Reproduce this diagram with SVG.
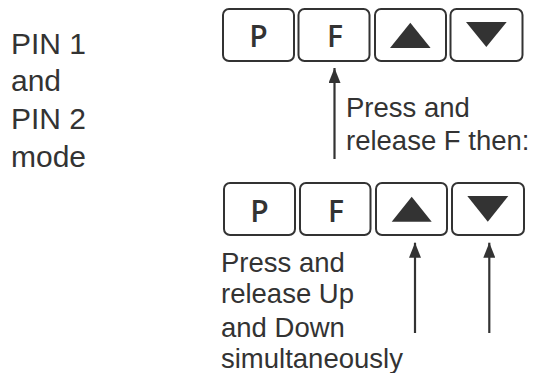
<svg xmlns="http://www.w3.org/2000/svg" width="535" height="373" viewBox="0 0 535 373">
<defs>
<style>
.btn{fill:#fff;stroke:#333;stroke-width:2}
.key{font-family:"Open Sans","Liberation Sans",sans-serif;font-weight:600;font-size:30px;fill:#333;text-anchor:middle}
.tri{fill:#333}
.lbl{font-family:"Liberation Sans",Arial,sans-serif;font-size:27.5px;fill:#333}
.big{font-family:"Liberation Sans",Arial,sans-serif;font-size:30px;fill:#333}
.con{stroke:#333;stroke-width:2.2;fill:none;marker-end:url(#ah)}
</style>
<marker id="ah" markerUnits="userSpaceOnUse" markerWidth="15" markerHeight="12" refX="15" refY="6" orient="auto">
<path d="M0,0 L15,6 L0,12 z" fill="#333"/>
</marker>
</defs>
<rect width="535" height="373" fill="#fff"/>
<g id="mode-label">
<text class="big" x="11" y="54.3">PIN 1</text>
<text class="big" x="11" y="91">and</text>
<text class="big" x="11" y="129.3">PIN 2</text>
<text class="big" x="11" y="166.7">mode</text>
</g>
<g id="top-P"><rect class="btn" x="223" y="9" width="71" height="52" rx="6"/><text class="key" x="258.5" y="46.7">P</text></g>
<g id="top-F"><rect class="btn" x="298.5" y="9" width="71" height="52" rx="6"/><text class="key" x="335" y="46.7">F</text></g>
<g id="top-up"><rect class="btn" x="375" y="9" width="71" height="52" rx="6"/><polygon class="tri" points="390,48 430.6,48 410.3,22.7"/></g>
<g id="top-down"><rect class="btn" x="450.5" y="9" width="72" height="52" rx="6"/><polygon class="tri" points="466,22 506.7,22 486.3,47"/></g>
<g id="bot-P"><rect class="btn" x="224" y="183" width="71" height="52" rx="6"/><text class="key" x="259.5" y="221.7">P</text></g>
<g id="bot-F"><rect class="btn" x="300" y="183" width="70.5" height="52" rx="6"/><text class="key" x="336" y="221.7">F</text></g>
<g id="bot-up"><rect class="btn" x="376" y="183" width="71" height="52" rx="6"/><polygon class="tri" points="391.7,221.7 431.7,221.7 411.7,196.7"/></g>
<g id="bot-down"><rect class="btn" x="452" y="183" width="72" height="52" rx="6"/><polygon class="tri" points="467.3,196 508.3,196 487.8,221.7"/></g>
<g id="note-F">
<text class="lbl" x="346" y="117.3">Press and</text>
<text class="lbl" x="346" y="150">release F then:</text>
</g>
<g id="note-updown">
<text class="lbl" x="221" y="271.7">Press and</text>
<text class="lbl" x="221" y="303.3">release Up</text>
<text class="lbl" x="221" y="336.7">and Down</text>
<text class="lbl" x="221" y="368.3">simultaneously</text>
</g>
<g id="connectors">
<line class="con" x1="334.5" y1="159" x2="334.5" y2="68"/>
<line class="con" x1="415" y1="333" x2="415" y2="242.7"/>
<line class="con" x1="489.3" y1="333" x2="489.3" y2="242.7"/>
</g>
</svg>
